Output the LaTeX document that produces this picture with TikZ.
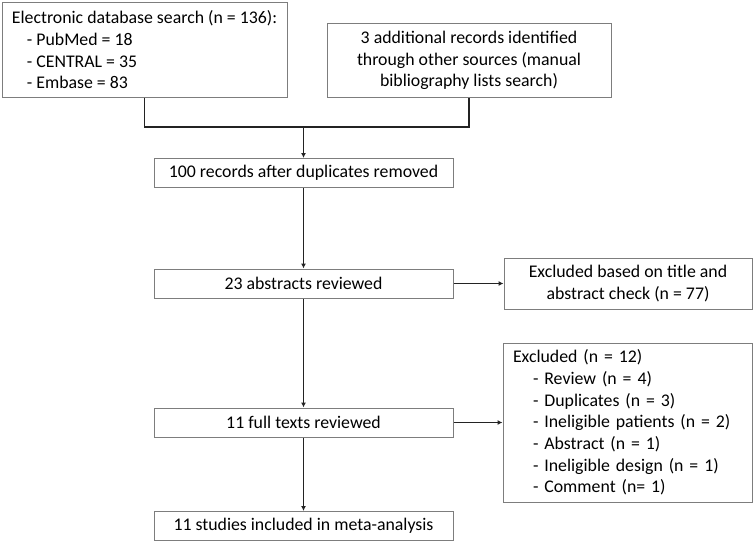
\documentclass[tikz,border=0pt]{standalone}
\usepackage{fontspec}
\setmainfont{Carlito}
\usetikzlibrary{arrows.meta, positioning}
\definecolor{boxgray}{RGB}{125,125,125}
\definecolor{linedark}{RGB}{35,35,35}

\begin{document}
\begin{tikzpicture}[x=1pt,y=-1pt,
		box/.style={draw=boxgray, line width=1pt, inner sep=0pt, align=center, font=\fontsize{17.8}{21.7}\selectfont},
		flow/.style={box, minimum width=299pt, minimum height=29pt},
		conn/.style={draw=linedark, line width=1.3pt},
		arr/.style={conn, -{Latex[length=5pt,width=5pt]}}]
				\useasboundingbox (0,0) rectangle (755,543);
				\node[box, minimum width=285pt, minimum height=94pt, align=left] (search) at (144.5,50) {Electronic database search (n = 136):\\\hspace*{15pt}- PubMed = 18\\\hspace*{15pt}- CENTRAL = 35\\\hspace*{15pt}- Embase = 83};
				\node[box, minimum width=284pt, minimum height=73pt] (other) at (469,60.5) {3 additional records identified\\through other sources (manual\\bibliography lists search)};
				\coordinate (merge) at (303.5,127);
				\node[flow] (records) at (303.5,173) {100 records after duplicates removed};
				\node[flow] (abstracts) at (303.5,283.5) {23 abstracts reviewed};
				\node[box, minimum width=248pt, minimum height=51pt] (exabs) at (628,283.5) {Excluded based on title and\\abstract check (n = 77)};
				\node[flow] (fulltext) at (303.5,422.5) {11 full texts reviewed};
				\node[box, minimum width=249pt, minimum height=159pt, text width=229pt, align=left] (exfull) at (627.5,422.5) {Excluded (n = 12)\\\hspace*{20pt}- Review (n = 4)\\\hspace*{20pt}- Duplicates (n = 3)\\\hspace*{20pt}- Ineligible patients (n = 2)\\\hspace*{20pt}- Abstract (n = 1)\\\hspace*{20pt}- Ineligible design (n = 1)\\\hspace*{20pt}- Comment (n= 1)};
				\node[flow] (studies) at (303.5,526) {11 studies included in meta-analysis};
				\draw[conn] (search.south) |- (merge) -| (other.south);
				\draw[arr] (merge) -- (records.north);
				\draw[arr] (records.south) -- (abstracts.north);
				\draw[arr] (abstracts.east) -- (exabs.west);
				\draw[arr] (abstracts.south) -- (fulltext.north);
				\draw[arr] (fulltext.east) -- (exfull.west);
				\draw[arr] (fulltext.south) -- (studies.north);
			\end{tikzpicture}
\end{document}
